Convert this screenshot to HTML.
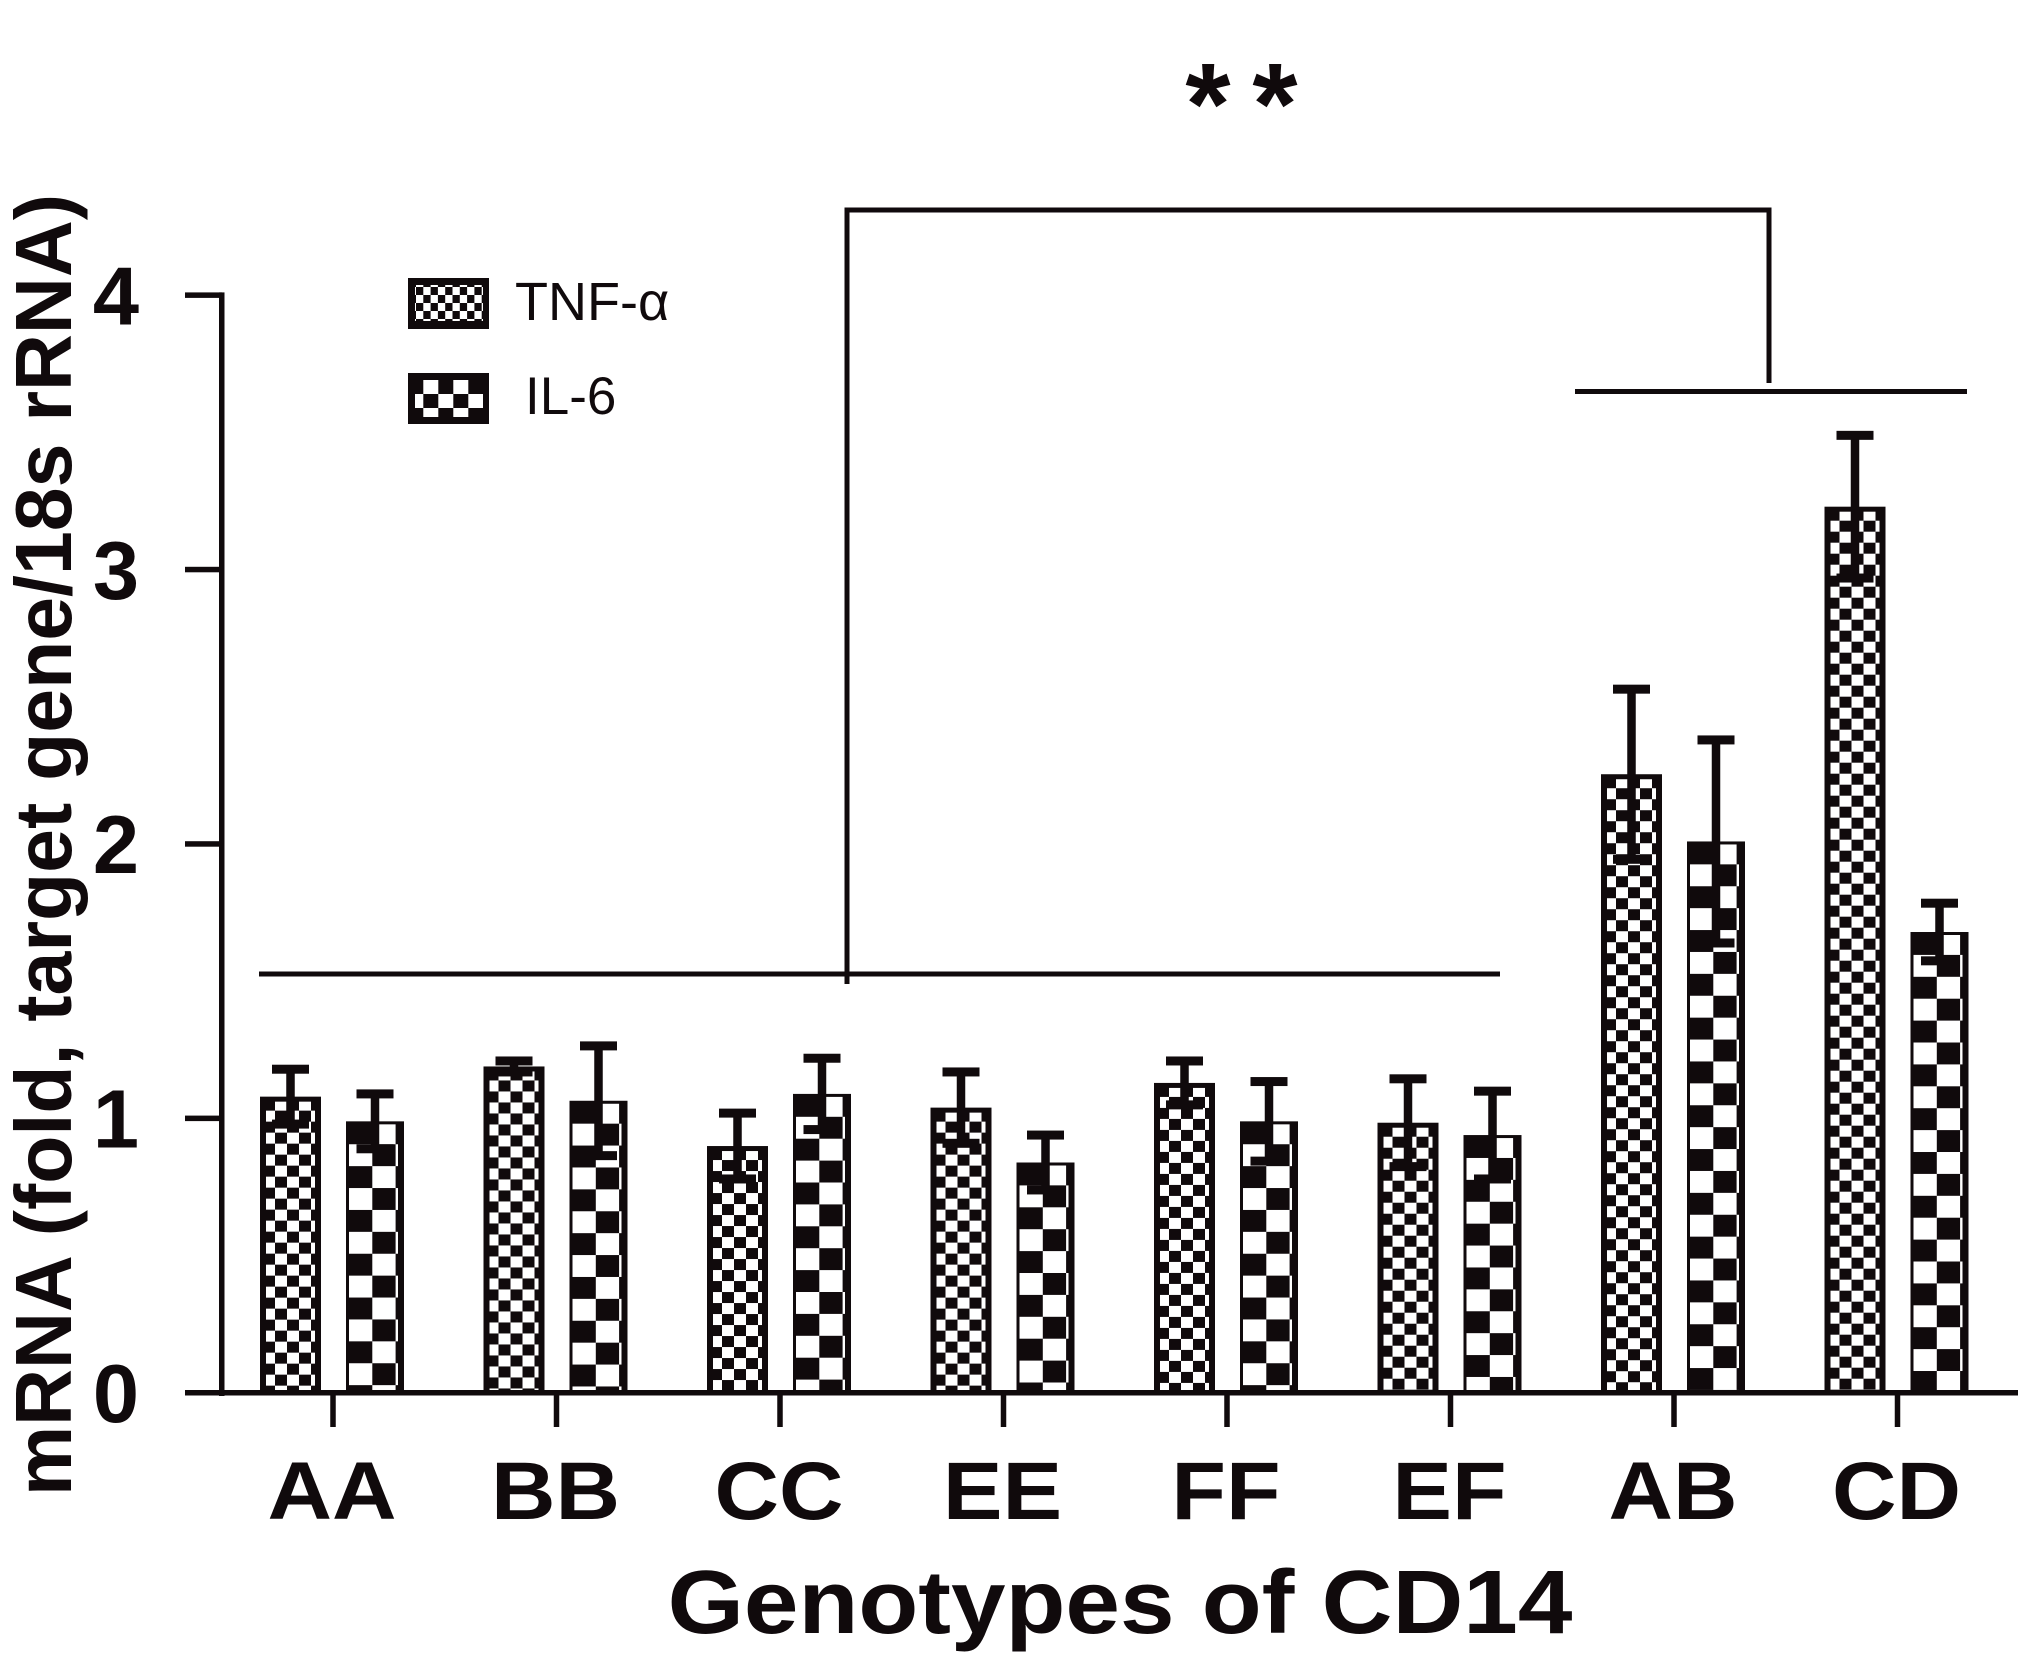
<!DOCTYPE html>
<html lang="en">
<head>
<meta charset="utf-8">
<title>mRNA by CD14 genotype</title>
<style>
html,body{margin:0;padding:0;background:#fff;width:2031px;height:1668px;overflow:hidden}
svg{display:block;font-family:"Liberation Sans",sans-serif}
text{fill:#100a0c}
</style>
</head>
<body>
<svg id="chart" xmlns="http://www.w3.org/2000/svg" width="2031" height="1668" viewBox="0 0 2031 1668">
  <rect x="0" y="0" width="2031" height="1668" fill="#fff"/>
  <defs id="defs"></defs>
  <g id="bars"></g>
  <g id="axes"></g>

  <text transform="translate(71,1496) rotate(-90)" font-size="80" font-weight="bold" textLength="1302" lengthAdjust="spacingAndGlyphs">mRNA (fold, target gene/18s rRNA)</text>
  <text transform="translate(1120,1633) scale(1.09,1)" font-size="90" font-weight="bold" text-anchor="middle">Genotypes of CD14</text>

  <g stroke="#100a0c" stroke-width="5" fill="none">
    <path d="M847 984V210H1769V383"/>
    <line x1="259" y1="974" x2="1500" y2="974"/>
    <line x1="1575" y1="391.5" x2="1967" y2="391.5"/>
  </g>
  <text x="1208" y="144" font-size="116" font-weight="bold" text-anchor="middle">*</text>
  <text x="1275" y="144" font-size="116" font-weight="bold" text-anchor="middle">*</text>

  <g id="legend">
    <g>
      <rect x="408" y="278" width="81" height="51" fill="#100a0c"/>
      <rect id="swatchT" x="415" y="285" width="68" height="36"/>
      <text x="515" y="320" font-size="54" style="font-family:'Liberation Sans','DejaVu Sans',sans-serif">TNF-α</text>
    </g>
    <g>
      <rect x="408" y="373" width="81" height="51" fill="#100a0c"/>
      <rect id="swatchI" x="415" y="380" width="68" height="37"/>
      <text x="525" y="414" font-size="53">IL-6</text>
    </g>
  </g>
</svg>
<script>
const categories = ["AA", "BB", "CC", "EE", "FF", "EF", "AB", "CD"];
const tnfValues = [1.08, 1.19, 0.90, 1.04, 1.13, 0.985, 2.255, 3.23];
const tnfErrors = [0.10, 0.02, 0.12, 0.13, 0.08, 0.16, 0.31, 0.26];
const il6Values = [0.99, 1.065, 1.09, 0.84, 0.99, 0.94, 2.01, 1.68];
const il6Errors = [0.10, 0.20, 0.13, 0.10, 0.145, 0.16, 0.37, 0.105];
const yTicks = [0, 1, 2, 3, 4];

const INK = "#100a0c";
const NS = "http://www.w3.org/2000/svg";
const defs = document.getElementById("defs");
const barsLayer = document.getElementById("bars");
const axesLayer = document.getElementById("axes");

function yScale(v) { return 1393 - v * 274.4; }
function xScale(i) { return 333 + i * 223.5; }

function make(tag, attrs, parent) {
  const el = document.createElementNS(NS, tag);
  for (const k in attrs) el.setAttribute(k, attrs[k]);
  parent.appendChild(el);
  return el;
}

function makePattern(id, ox, oy, cw, ch) {
  const p = make("pattern", {id: id, patternUnits: "userSpaceOnUse", x: ox, y: oy, width: cw * 2, height: ch * 2}, defs);
  make("rect", {x: 0, y: 0, width: cw * 2, height: ch * 2, fill: "#fff"}, p);
  make("rect", {x: 0, y: 0, width: cw, height: ch, fill: INK}, p);
  make("rect", {x: cw, y: ch, width: cw, height: ch, fill: INK}, p);
}

function drawBar(seriesName, i, value, error, offsetLeft, width, insets, cellW, cellH, phase) {
  const left = xScale(i) + offsetLeft;
  const top = yScale(value);
  const base = yScale(0);
  const outer = make("rect", {x: left, y: top, width: width, height: base - top, fill: INK}, barsLayer);
  
  
  const pid = "pat-" + seriesName + "-" + i;
  makePattern(pid, left + phase[0], top + phase[1], cellW, cellH);
  const inner = make("rect", {
    x: left + insets[0], y: top + insets[2],
    width: width - insets[0] - insets[1], height: base - top - insets[2],
    fill: "url(#" + pid + ")"
  }, barsLayer);
  
  

  const cx = left + width / 2;
  const hi = yScale(value + error);
  const lo = yScale(value - error);
  const stem = make("rect", {x: cx - 4.25, y: hi, width: 8.5, height: lo - hi, fill: INK}, barsLayer);
  
  
  const capTop = make("rect", {x: cx - 18.5, y: hi - 4.5, width: 37, height: 9, fill: INK}, barsLayer);
  
  
  const capLow = make("rect", {x: cx - 18.5, y: lo - 4.5, width: 37, height: 9, fill: INK}, barsLayer);
  
  
}

categories.forEach(function (cat, i) {
  drawBar("tnf", i, tnfValues[i], tnfErrors[i], -73, 61, [6, 6, 5], 12, 11, [3, 3]);
  drawBar("il6", i, il6Values[i], il6Errors[i], 13, 58, [3, 6, 3], 23.3, 21.9, [3, 1]);
});

const yAxisLine = make("rect", {x: 219, y: yScale(4) - 3, width: 5.5, height: yScale(0) - yScale(4) + 6, fill: INK}, axesLayer);



const xAxisLine = make("rect", {x: 185, y: yScale(0) - 3, width: 1833, height: 5.5, fill: INK}, axesLayer);



yTicks.forEach(function (t) {
  const mark = make("rect", {x: 185, y: yScale(t) - 3, width: 37, height: 5.5, fill: INK}, axesLayer);
  
  
  const label = make("text", {x: 139, y: yScale(t) + 29, "font-size": 83, "font-weight": "bold", "text-anchor": "end"}, axesLayer);
  
  
  label.textContent = String(t);
});

categories.forEach(function (cat, i) {
  const mark = make("rect", {x: xScale(i) - 2.75, y: yScale(0), width: 5.5, height: 34, fill: INK}, axesLayer);
  
  
  const label = make("text", {
    transform: "translate(" + (xScale(i) - 1) + ",1519) scale(1.09,1)",
    "font-size": 82, "font-weight": "bold", "text-anchor": "middle"
  }, axesLayer);
  
  
  label.textContent = cat;
});

makePattern("legend-pat-t", 416, 287, 7.3, 8);
makePattern("legend-pat-i", 408.3, 380, 15, 14);
document.getElementById("swatchT").setAttribute("fill", "url(#legend-pat-t)");
document.getElementById("swatchI").setAttribute("fill", "url(#legend-pat-i)");
</script>
</body>
</html>
